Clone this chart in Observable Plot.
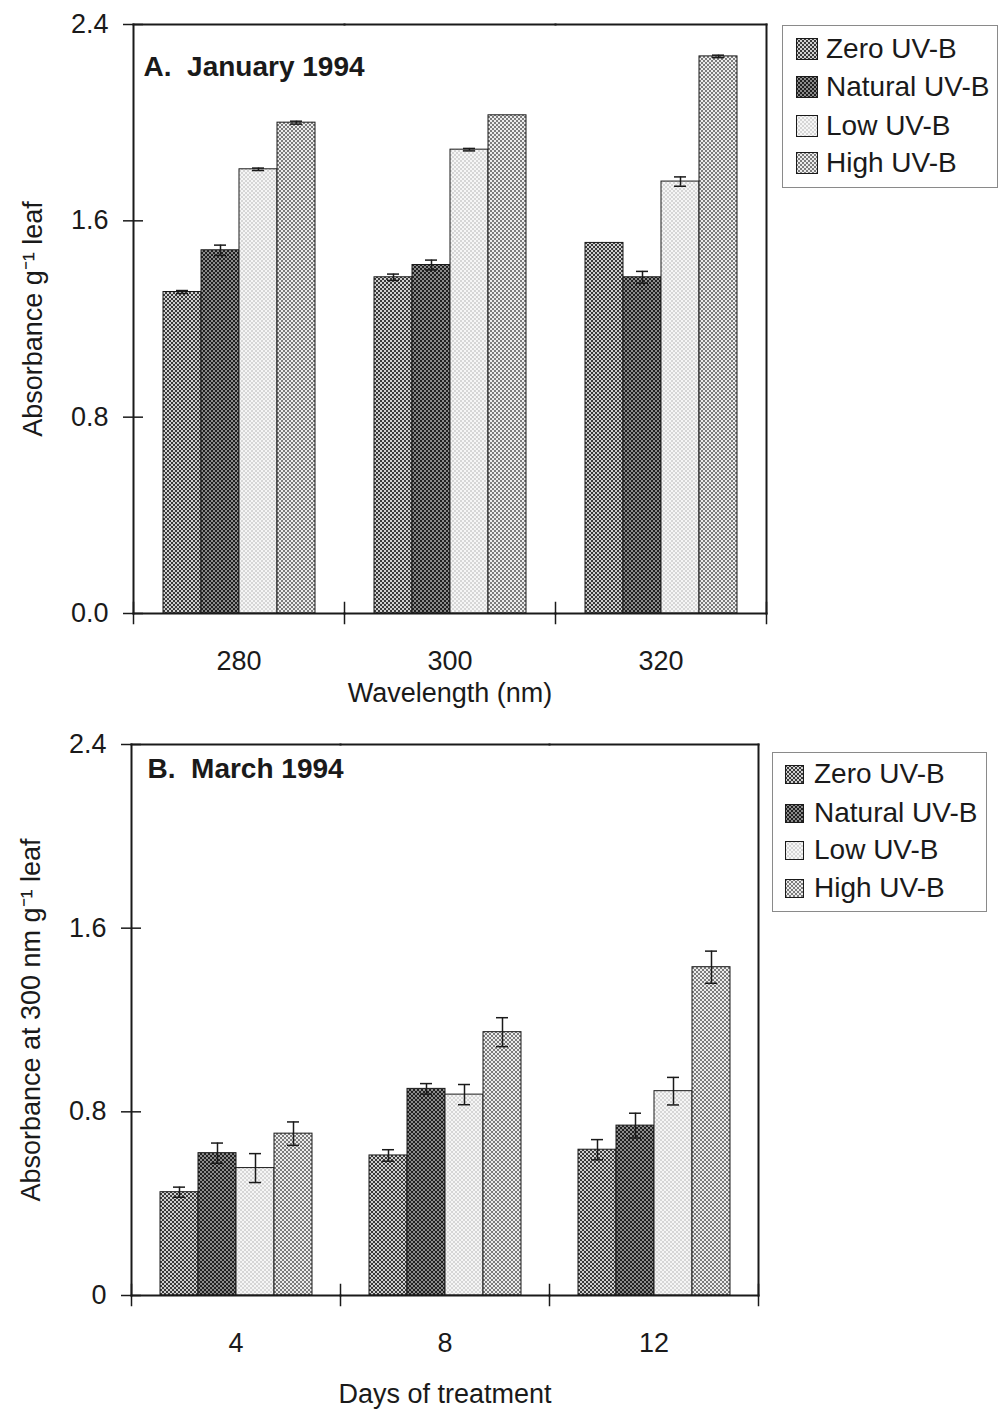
<!DOCTYPE html>
<html><head><meta charset="utf-8">
<script src="https://cdn.jsdelivr.net/npm/d3@7"></script>
<script src="https://cdn.jsdelivr.net/npm/@observablehq/plot@0.6"></script>
<style>
body{margin:0;background:#fff;}
#page{position:relative;width:999px;height:1413px;overflow:hidden;font-family:"Liberation Sans",Arial,sans-serif;color:#1a1a1a;background:#fff;}
.chart{position:absolute;left:0;}
.legend{position:absolute;border:1px solid #8a8a8a;background:#fff;box-sizing:border-box;}
.legend .row{position:absolute;display:flex;align-items:center;white-space:nowrap;height:30px;margin-top:-15px;}
.legend .row span{line-height:30px;}
</style></head>
<body>
<svg width="0" height="0" style="position:absolute"><defs id="defs"></defs></svg>
<div id="page"></div>
<script>
// ---------- data ----------
const series = ["Zero UV-B", "Natural UV-B", "Low UV-B", "High UV-B"];

// Panel A: January 1994, absorbance by wavelength
const wavelengths = ["280", "300", "320"];
const janZero    = [1.31, 1.37, 1.51];
const janNatural = [1.48, 1.42, 1.37];
const janLow     = [1.81, 1.89, 1.76];
const janHigh    = [2.00, 2.03, 2.27];
const janZeroErr    = [0.006, 0.013, 0];
const janNaturalErr = [0.021, 0.02, 0.024];
const janLowErr     = [0.005, 0.005, 0.019];
const janHighErr    = [0.006, 0, 0.005];

// Panel B: March 1994, absorbance at 300 nm by days of treatment
const days = ["4", "8", "12"];
const marZero    = [0.45, 0.61, 0.635];
const marNatural = [0.62, 0.90, 0.74];
const marLow     = [0.555, 0.875, 0.89];
const marHigh    = [0.705, 1.147, 1.43];
const marZeroErr    = [0.022, 0.025, 0.044];
const marNaturalErr = [0.044, 0.023, 0.054];
const marLowErr     = [0.063, 0.044, 0.06];
const marHighErr    = [0.051, 0.063, 0.07];

const yTicks = [0, 0.8, 1.6, 2.4];

// ---------- styles ----------
const FONT = "'Liberation Sans', Arial, Helvetica, sans-serif";
const INK = "#1a1a1a";
const patternStyles = [
  {id: "pZero",    light: "#d0d0d0", dark: "#3a3a3a"},
  {id: "pNatural", light: "#8a8a8a", dark: "#202020"},
  {id: "pLow",     light: "#f6f6f6", dark: "#d6d6d6"},
  {id: "pHigh",    light: "#ececec", dark: "#7c7c7c"}
];
const defs = document.getElementById("defs");
defs.innerHTML = patternStyles.map(p =>
  `<pattern id="${p.id}" width="4" height="4" patternUnits="userSpaceOnUse">
     <rect width="4" height="4" fill="${p.light}"/>
     <rect width="2" height="2" fill="${p.dark}"/>
     <rect x="2" y="2" width="2" height="2" fill="${p.dark}"/>
   </pattern>`).join("");
const fills = patternStyles.map(p => `url(#${p.id})`);

function buildRows(cats, vals, errs) {
  return cats.flatMap((c, i) => series.map((s, j) => ({cat: c, series: s, value: vals[j][i], err: errs[j][i]})));
}
const rowsA = buildRows(wavelengths, [janZero, janNatural, janLow, janHigh], [janZeroErr, janNaturalErr, janLowErr, janHighErr]);
const rowsB = buildRows(days, [marZero, marNatural, marLow, marHigh], [marZeroErr, marNaturalErr, marLowErr, marHighErr]);

function chart(o) {
  const plotH = o.height - o.marginTop - o.marginBottom;
  const errRows = o.rows.filter(d => d.err > 0);
  return Plot.plot({
    width: 999, height: o.height,
    marginTop: o.marginTop, marginBottom: o.marginBottom, marginLeft: o.marginLeft, marginRight: o.marginRight,
    style: {fontFamily: FONT, fontSize: "27px", color: INK, background: "transparent"},
    fx: {domain: o.cats, padding: 0, label: o.xLabel, tickSize: 0, tickPadding: 37, labelAnchor: "center", labelOffset: o.xLabelOffset},
    x: {domain: series, paddingInner: 0, paddingOuter: 0.75, axis: null},
    y: {domain: [0, 2.4]},
    color: {domain: series, range: fills},
    marks: [
      Plot.barY(o.rows, {fx: "cat", x: "series", y: "value", fill: "series", stroke: INK, strokeWidth: 1}),
      Plot.ruleX(errRows, {fx: "cat", x: "series", y1: d => d.value - d.err, y2: d => d.value + d.err, stroke: INK, strokeWidth: 1.5}),
      Plot.tickY(errRows, {fx: "cat", x: "series", y: d => d.value + d.err, insetLeft: 13, insetRight: 13, stroke: INK, strokeWidth: 1.5}),
      Plot.tickY(errRows, {fx: "cat", x: "series", y: d => d.value - d.err, insetLeft: 13, insetRight: 13, stroke: INK, strokeWidth: 1.5}),
      Plot.frame({anchor: "top", stroke: INK, strokeWidth: 2}),
      Plot.frame({anchor: "bottom", stroke: INK, strokeWidth: 2}),
      Plot.frame({anchor: "left", facetAnchor: "left", stroke: INK, strokeWidth: 2}),
      Plot.frame({anchor: "right", facetAnchor: "right", stroke: INK, strokeWidth: 2}),
      Plot.frame({anchor: "left", insetTop: plotH - 11, insetBottom: -10, stroke: INK, strokeWidth: 1.5}),
      Plot.frame({anchor: "right", facetAnchor: "right", insetTop: plotH - 11, insetBottom: -10, stroke: INK, strokeWidth: 1.5}),
      Plot.axisY({ticks: yTicks, tickFormat: o.tickFormat, tickSize: 20, dx: 10, tickPadding: 15, fontSize: 27, label: null, stroke: INK, strokeWidth: 1.5}),
      Plot.text([o.yLabel], {text: d => d, frameAnchor: "left", facetAnchor: "left", rotate: -90, dx: o.yLabelDx, fontSize: 27, textAnchor: "middle", fill: INK}),
      Plot.text([o.title], {text: d => d, frameAnchor: "top-left", facetAnchor: "left", dx: o.titleDx, dy: o.titleDy, fontWeight: "bold", fontSize: 28, textAnchor: "start", lineAnchor: "top", fill: INK})
    ]
  });
}

const page = document.getElementById("page");

const chartA = chart({
  rows: rowsA, cats: wavelengths, height: 713, marginTop: 24, marginBottom: 100, marginLeft: 132, marginRight: 232,
  xLabel: "Wavelength (nm)", xLabelOffset: 88,
  yLabel: "Absorbance g\u207B\u00B9 leaf", yLabelDx: -100,
  title: "A.  January 1994", titleDx: 10, titleDy: 32,
  tickFormat: d => d.toFixed(1)
});
const divA = document.createElement("div"); divA.className = "chart"; divA.style.top = "0px"; divA.appendChild(chartA); page.appendChild(divA);

const chartB = chart({
  rows: rowsB, cats: days, height: 700, marginTop: 31, marginBottom: 118, marginLeft: 131, marginRight: 241,
  xLabel: "Days of treatment", xLabelOffset: 107,
  yLabel: "Absorbance at 300 nm g\u207B\u00B9 leaf", yLabelDx: -100,
  title: "B.  March 1994", titleDx: 16, titleDy: 14,
  tickFormat: d => d === 0 ? "0" : d.toFixed(1)
});
const divB = document.createElement("div"); divB.className = "chart"; divB.style.top = "713px"; divB.appendChild(chartB); page.appendChild(divB);

function legend(box, swatchX, swatchSize, textX, rowYs) {
  const el = document.createElement("div");
  el.className = "legend";
  Object.assign(el.style, {left: box.left + "px", top: box.top + "px", width: box.width + "px", height: box.height + "px"});
  series.forEach((s, i) => {
    const sw = `<svg width="${swatchSize}" height="${swatchSize}" style="position:absolute;left:${swatchX}px;top:${15 - swatchSize / 2}px"><rect x="0.5" y="0.5" width="${swatchSize - 1}" height="${swatchSize - 1}" fill="${fills[i]}" stroke="${INK}" stroke-width="1"/></svg>`;
    const row = document.createElement("div");
    row.className = "row";
    row.style.left = "0px"; row.style.top = rowYs[i] + "px"; row.style.width = "100%";
    row.innerHTML = sw + `<span style="position:absolute;left:${textX}px;font-size:28px;">${s}</span>`;
    el.appendChild(row);
  });
  page.appendChild(el);
}
legend({left: 782, top: 25, width: 216, height: 163}, 13, 22, 43, [23, 61, 100, 137]);
legend({left: 772, top: 752, width: 215, height: 160}, 12, 19, 41, [21, 60, 97, 135]);
</script>
</body></html>
